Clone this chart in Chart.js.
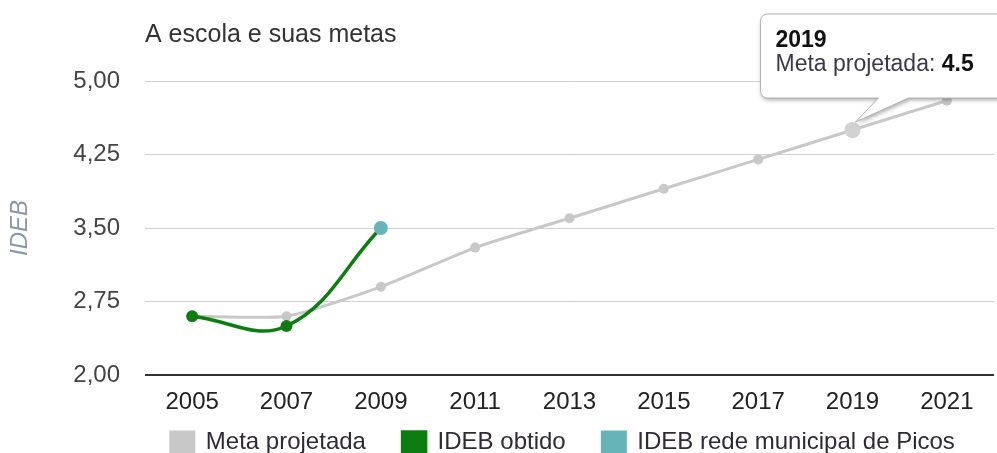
<!DOCTYPE html>
<html>
<head>
<meta charset="utf-8">
<script src="https://cdn.jsdelivr.net/npm/chart.js@4"></script>
<style>
  html, body { margin: 0; padding: 0; background: #fff; overflow: hidden; }
  #wrap { position: relative; width: 1001px; height: 464px; }
</style>
</head>
<body>
<div id="wrap"><canvas id="graph-canvas"></canvas></div>
<script>
const years = ['2005', '2007', '2009', '2011', '2013', '2015', '2017', '2019', '2021'];
const metaProjetada = [2.6, 2.6, 2.9, 3.3, 3.6, 3.9, 4.2, 4.5, 4.8];
const idebObtido = [2.6, 2.5, 3.5, null, null, null, null, null, null];
const idebRede = [null, null, 3.5, null, null, null, null, null, null];
const yTicks = [2.0, 2.75, 3.5, 4.25, 5.0];

const FONT = '"Liberation Sans", Arial, sans-serif';
const hoverIndex = 7;

// tooltip like the google one, fixed on the 2019 goal point
const calloutPlugin = {
    id: 'callout',
    afterDraw(chart) {
        const pt = chart.getDatasetMeta(0).data[hoverIndex];
        const ctx = chart.ctx;
        const x0 = pt.x - 92, y0 = pt.y - 116, w = 260, h = 84, r = 7;
        const yb = y0 + h;

        ctx.save();
        ctx.beginPath();
        ctx.moveTo(x0 + r, y0);
        ctx.lineTo(x0 + w - r, y0);
        ctx.arcTo(x0 + w, y0, x0 + w, y0 + r, r);
        ctx.lineTo(x0 + w, yb - r);
        ctx.arcTo(x0 + w, yb, x0 + w - r, yb, r);
        ctx.lineTo(pt.x + 56, yb);
        ctx.lineTo(pt.x + 3, pt.y - 8);
        ctx.lineTo(pt.x + 26, yb);
        ctx.lineTo(x0 + r, yb);
        ctx.arcTo(x0, yb, x0, yb - r, r);
        ctx.lineTo(x0, y0 + r);
        ctx.arcTo(x0, y0, x0 + r, y0, r);
        ctx.closePath();
        ctx.shadowColor = 'rgba(0,0,0,0.35)';
        ctx.shadowBlur = 4;
        ctx.shadowOffsetX = 1;
        ctx.shadowOffsetY = 2;
        ctx.fillStyle = '#fff';
        ctx.fill();
        ctx.shadowColor = 'transparent';
        ctx.strokeStyle = '#b4b4b4';
        ctx.lineWidth = 1;
        ctx.stroke();

        ctx.textBaseline = 'alphabetic';
        ctx.textAlign = 'left';
        ctx.fillStyle = '#111';
        ctx.font = 'bold 23px ' + FONT;
        ctx.fillText(years[hoverIndex], x0 + 15, y0 + 33);

        const label = chart.data.datasets[0].label + ': ';
        ctx.font = '23px ' + FONT;
        ctx.fillStyle = '#3c3848';
        ctx.fillText(label, x0 + 15, y0 + 57);
        const lw = ctx.measureText(label).width;
        ctx.font = 'bold 23px ' + FONT;
        ctx.fillStyle = '#111';
        ctx.fillText(String(metaProjetada[hoverIndex]), x0 + 15 + lw, y0 + 57);
        ctx.restore();
    }
};

const ctx = document.getElementById('graph-canvas').getContext('2d');

const chart = new Chart(ctx, {
    type: 'line',
    data: {
        labels: years,
        datasets: [{
            label: 'Meta projetada',
            data: metaProjetada,
            borderColor: '#c8c8c8',
            backgroundColor: '#c8c8c8',
            borderWidth: 3,
            pointRadius: c => c.dataIndex === hoverIndex ? 8 : 5,
            pointBackgroundColor: c => c.dataIndex === hoverIndex ? '#d2d2d2' : '#c8c8c8',
            pointBorderWidth: 0,
            tension: 0.2,
            order: 3
        }, {
            label: 'IDEB obtido',
            data: idebObtido,
            borderColor: '#0d7d10',
            backgroundColor: '#0d7d10',
            borderWidth: 3.5,
            pointRadius: 6,
            pointBorderWidth: 0,
            tension: 0.4,
            order: 2
        }, {
            label: 'IDEB rede municipal de Picos',
            data: idebRede,
            borderColor: '#66b4b8',
            backgroundColor: '#66b4b8',
            borderWidth: 3,
            pointRadius: 7,
            pointBorderWidth: 0,
            order: 1
        }]
    },
    options: {
        responsive: true,
        maintainAspectRatio: false,
        animation: false,
        events: [],
        layout: { padding: 0 },
        plugins: {
            tooltip: { enabled: false },
            title: {
                display: true,
                text: 'A escola e suas metas',
                align: 'start',
                fullSize: false,
                color: '#333',
                font: { family: FONT, size: 25, weight: 'normal' },
                padding: { top: 20, bottom: 31 }
            },
            legend: {
                position: 'bottom',
                fullSize: false,
                reverse: true,
                labels: {
                    boxWidth: 23,
                    boxHeight: 20,
                    padding: 10,
                    color: '#2e2a36',
                    font: { family: FONT, size: 24 },
                    // trailing spaces widen the gap between items
                    generateLabels(chart) {
                        const items = Chart.defaults.plugins.legend.labels.generateLabels(chart);
                        items.forEach(it => {
                            it.text += it.datasetIndex === 2 ? '  ' : '    ';
                        });
                        return items;
                    }
                }
            }
        },
        scales: {
            x: {
                offset: true,
                grid: { display: false, drawTicks: false },
                border: { display: false },
                ticks: {
                    padding: 13,
                    color: '#222',
                    maxRotation: 0,
                    font: { family: FONT, size: 24 }
                },
                afterFit(scale) { scale.height = 45; }
            },
            y: {
                min: 2,
                max: 5,
                afterBuildTicks(scale) {
                    scale.ticks = yTicks.map(v => ({ value: v }));
                },
                afterFit(scale) { scale.width = 145; },
                grid: {
                    drawTicks: false,
                    color: c => c.tick && c.tick.value === 2 ? '#333' : '#cfcfcf',
                    lineWidth: c => c.tick && c.tick.value === 2 ? 2 : 1
                },
                border: { display: false },
                ticks: {
                    padding: 25,
                    color: '#444',
                    font: { family: FONT, size: 24 },
                    callback: v => v.toFixed(2).replace('.', ',')
                },
                title: {
                    display: true,
                    text: 'IDEB',
                    color: '#8a96aa',
                    font: { family: FONT, size: 24, style: 'italic' },
                    padding: { top: 6, bottom: 0 }
                }
            }
        }
    },
    plugins: [calloutPlugin]
});
</script>
</body>
</html>
